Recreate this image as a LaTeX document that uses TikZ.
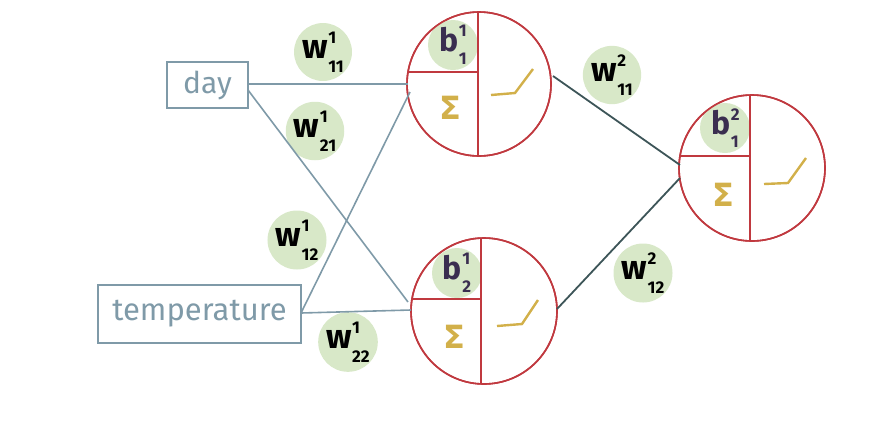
\documentclass[tikz,border=0pt]{standalone}
\usepackage{fontspec}
\setsansfont{Fira Sans}
\newfontfamily\symfont{DejaVu Sans}
\usetikzlibrary{calc}
\definecolor{inblue}{HTML}{7F9AA8}
\definecolor{darkline}{HTML}{3D5558}
\definecolor{nred}{HTML}{C0393F}
\definecolor{wgreen}{HTML}{D8E8C8}
\definecolor{bpurple}{HTML}{3A2E50}
\definecolor{sumyel}{HTML}{D2B04A}
\tikzset{
  inbox/.style={draw=inblue, line width=1.6pt, text=inblue, inner sep=0pt, font=\sffamily},
  inline/.style={draw=inblue, line width=1.6pt},
  outline/.style={draw=darkline, line width=1.8pt},
  neuron/.style={circle, draw=nred, line width=1.6pt, minimum size=146pt, inner sep=0pt},
  divider/.style={draw=nred, line width=1.6pt},
  wlabel/.style={circle, fill=wgreen, minimum size=52pt, inner sep=0pt, text=black, font=\sffamily\bfseries\fontsize{34}{34}\selectfont},
  blabel/.style={circle, fill=wgreen, minimum size=50pt, inner sep=0pt, text=bpurple, font=\sffamily\bfseries\fontsize{32}{32}\selectfont},
  sumlabel/.style={text=sumyel, inner sep=0pt, font=\symfont\bfseries\fontsize{32}{32}\selectfont},
  relu/.style={draw=sumyel, line width=2.4pt}
}
\newcommand{\suplab}[3]{#1\hspace{0.5pt}\rlap{\raisebox{0.46em}{\fontsize{17}{17}\selectfont #2}}\raisebox{-0.4em}{\fontsize{17}{17}\selectfont #3}}
\begin{document}
\begin{tikzpicture}[x=1pt,y=-1pt]
\useasboundingbox (0,0) rectangle (875,432);
% input boxes
\node[inbox, minimum width=81pt, minimum height=46pt, font=\sffamily\fontsize{30}{30}\selectfont] (day) at (207.5,85) {day};
\node[inbox, minimum width=203pt, minimum height=58pt, font=\sffamily\fontsize{31}{31}\selectfont] (temp) at (199.5,314) {temperature};
% neurons
\node[neuron, minimum size=144pt] (n1) at (479,84) {};
\node[neuron] (n2) at (484,311) {};
\node[neuron] (n3) at (752,168) {};
% neuron interiors
\foreach \n/\cx/\cy/\r/\vx/\hy/\bx/\by/\bl/\sx/\sy in
  {n1/479/84/72/478/72/453/45/{\suplab{b}{1}{1}}/450/108,
   n2/484/311/73/481/299/457/273/{\suplab{b}{1}{2}}/454/337,
   n3/752/168/73/750/156/725/128/{\suplab{b}{2}{1}}/723/195}{
  \node[blabel] (\n b) at (\bx,\by) {\bl};
  \coordinate (\n top) at ($(\n.center)+(\vx-\cx,{-sqrt(\r*\r-(\vx-\cx)*(\vx-\cx))})$);
  \coordinate (\n bot) at ($(\n.center)+(\vx-\cx,{sqrt(\r*\r-(\vx-\cx)*(\vx-\cx))})$);
  \coordinate (\n left) at ($(\n.center)+({-sqrt(\r*\r-(\hy-\cy)*(\hy-\cy))},\hy-\cy)$);
  \coordinate (\n mid) at (\vx,\hy);
  \draw[divider] (\n top) -- (\n bot);
  \draw[divider] (\n left) -- (\n mid);
  \node[sumlabel] (\n s) at (\sx,\sy) {Σ};
}
\node[neuron, minimum size=144pt] at (n1) {};
\node[neuron] at (n2) {};
\node[neuron] at (n3) {};
% relu glyphs
\coordinate (r1a) at (491,95); \coordinate (r1b) at (515,93); \coordinate (r1c) at (533,69);
\coordinate (r2a) at (497,326); \coordinate (r2b) at (522,324); \coordinate (r2c) at (538,300);
\coordinate (r3a) at (764,184); \coordinate (r3b) at (788,183); \coordinate (r3c) at (806,158);
\draw[relu] (r1a) -- (r1b) -- (r1c);
\draw[relu] (r2a) -- (r2b) -- (r2c);
\draw[relu] (r3a) -- (r3b) -- (r3c);
% weight labels
\node[wlabel] (w111) at (323,52) {\suplab{w}{1}{11}};
\node[wlabel] (w121) at (315,131) {\suplab{w}{1}{21}};
\node[wlabel] (w112) at (297,240) {\suplab{w}{1}{12}};
\node[wlabel] (w122) at (348,342) {\suplab{w}{1}{22}};
\node[wlabel] (w211) at (612,75) {\suplab{w}{2}{11}};
\node[wlabel] (w212) at (643,273) {\suplab{w}{2}{12}};
% connectors
\coordinate (d1) at (day.east |- 0,84);
\coordinate (d2) at (248,90);
\coordinate (n1in1) at (408,84);
\coordinate (n1in2) at (410,92);
\coordinate (t1) at (301,313);
\coordinate (n2in1) at (408,302);
\coordinate (n2in2) at (411,310);
\draw[inline] (d1) -- (n1in1);
\draw[inline] (d2) -- (n2in1);
\draw[inline] (t1) -- (n1in2);
\draw[inline] (t1) -- (n2in2);
\coordinate (n1out) at (553,76);
\coordinate (n2out) at (557,309);
\coordinate (n3in1) at (680,165);
\coordinate (n3in2) at (680,178);
\draw[outline] (n1out) -- (n3in1);
\draw[outline] (n2out) -- (n3in2);
\end{tikzpicture}
\end{document}
